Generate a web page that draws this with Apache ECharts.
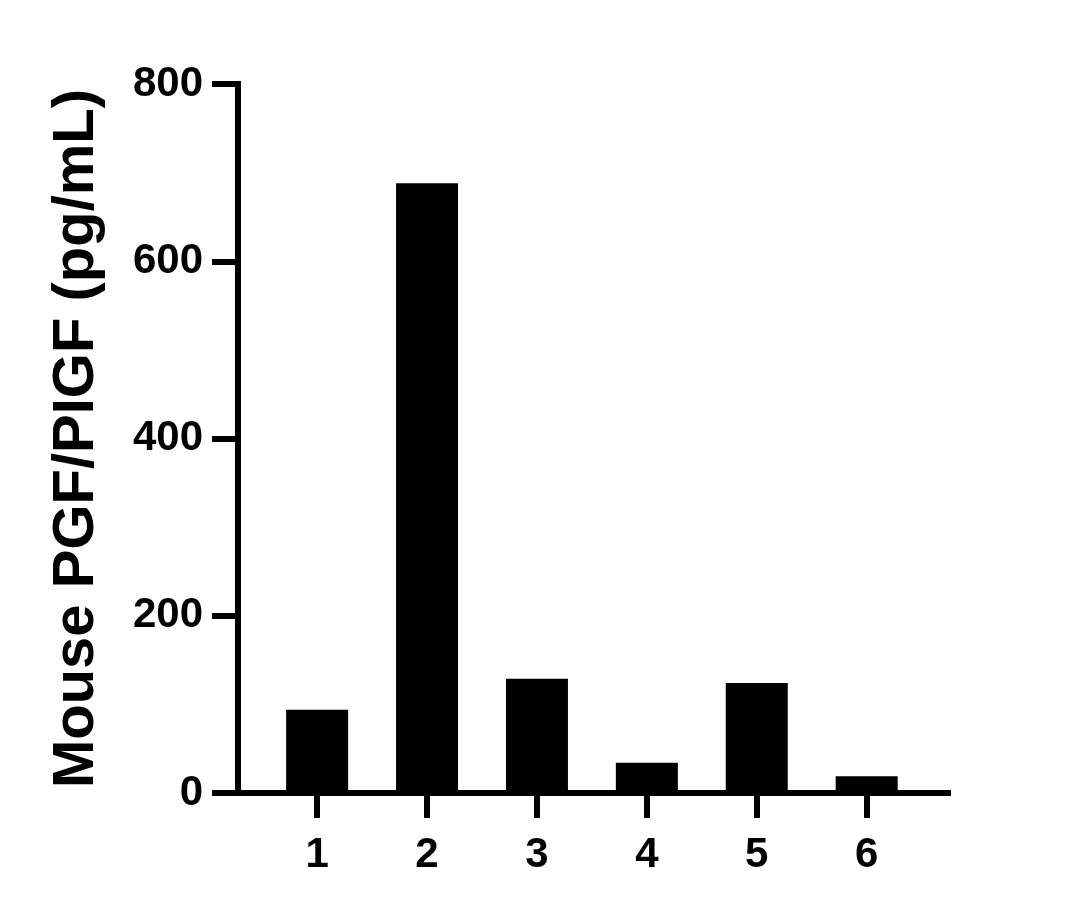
<!DOCTYPE html>
<html>
<head>
<meta charset="utf-8">
<script src="https://cdn.jsdelivr.net/npm/echarts@6/dist/echarts.min.js"></script>
<style>
  html, body { margin: 0; padding: 0; background: #fff; }
  #chart { width: 1080px; height: 910px; }
</style>
</head>
<body>
<div id="chart"></div>
<script>
// sample numbers on the x axis
const samples = [1, 2, 3, 4, 5, 6];
// Mouse PGF/PIGF concentration (pg/mL)
const values = [94, 688, 129, 34, 124, 19];
const yTicks = [0, 200, 400, 600, 800];

const chart = echarts.init(document.getElementById('chart'));
const font = 'Liberation Sans, Arial, sans-serif';

const option = {
    animation: false,
    backgroundColor: '#fff',
    grid: { left: 238, right: 132, top: 84, bottom: 117 },
    xAxis: {
        type: 'value',
        min: 0.28,
        max: 6.74,
        splitLine: { show: false },
        axisLine: { show: true, onZero: false, lineStyle: { color: '#000', width: 6, cap: 'square' } },
        axisTick: { show: true, length: 25, customValues: samples, lineStyle: { color: '#000', width: 6 } },
        axisLabel: {
            customValues: samples,
            margin: 41,
            color: '#000',
            fontFamily: font,
            fontWeight: 'bold',
            fontSize: 42
        }
    },
    yAxis: {
        type: 'value',
        min: 0,
        max: 800,
        interval: 200,
        name: 'Mouse PGF/PIGF (pg/mL)',
        nameLocation: 'middle',
        nameGap: 132,
        nameTextStyle: { color: '#000', fontFamily: font, fontWeight: 'bold', fontSize: 58 },
        splitLine: { show: false },
        axisLine: { show: true, lineStyle: { color: '#000', width: 6, cap: 'square' } },
        axisTick: { show: true, length: 26, lineStyle: { color: '#000', width: 6 } },
        axisLabel: {
            margin: 35,
            color: '#000',
            fontFamily: font,
            fontWeight: 'bold',
            fontSize: 42,
            formatter: v => yTicks.includes(v) ? String(v) : ''
        }
    },
    series: [{
        type: 'bar',
        data: samples.map((s, i) => [s, values[i]]),
        barWidth: 62,
        itemStyle: { color: '#000' },
        z: 1
    }]
};
chart.setOption(option);
</script>
</body>
</html>
